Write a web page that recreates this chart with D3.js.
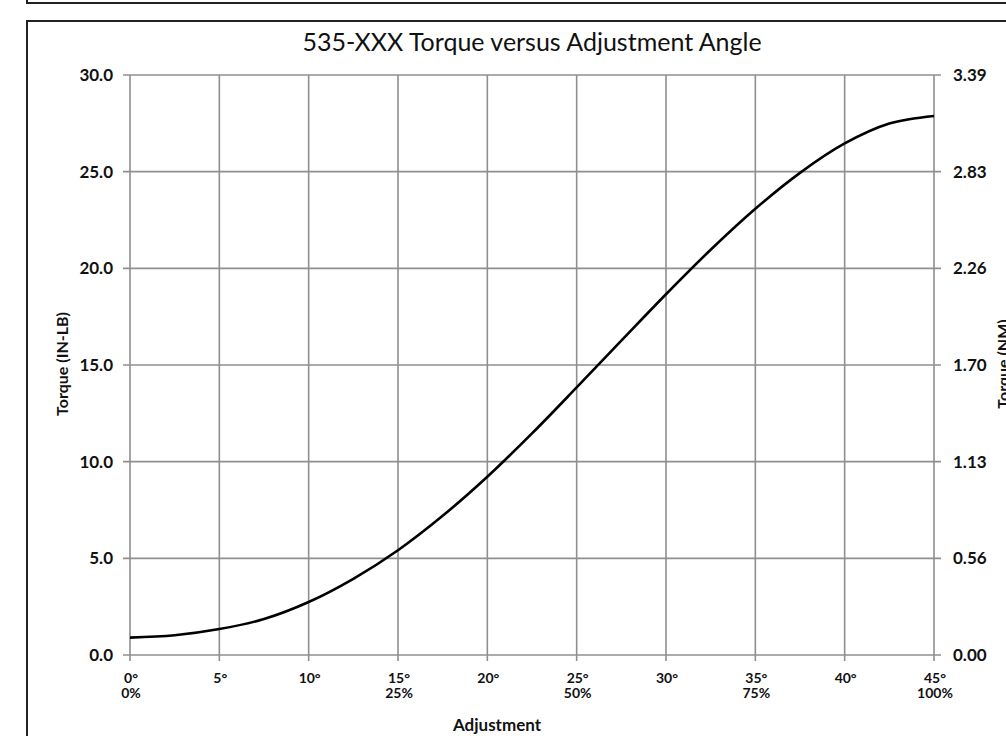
<!DOCTYPE html>
<html>
<head>
<meta charset="utf-8">
<script src="https://cdn.jsdelivr.net/npm/d3@7"></script>
<style>
  body { margin: 0; background: #fff; }
  svg text { font-family: Lato, "Open Sans", sans-serif; fill: #111; }
</style>
</head>
<body>
<svg id="stage" width="1006" height="736"></svg>
<script>

//chart data
var angles  = [0, 2.5, 5, 7.5, 10, 12.5, 15, 17.5, 20, 22.5, 25, 27.5, 30, 32.5, 35, 37.5, 40, 42.5, 45];
var torques = [0.90, 1.02, 1.34, 1.86, 2.74, 3.94, 5.42, 7.20, 9.22, 11.46, 13.84, 16.26, 18.66, 20.96, 23.08, 24.94, 26.46, 27.49, 27.88];

var degreeTicks  = [0, 5, 10, 15, 20, 25, 30, 35, 40, 45];
var percentTicks = {0: "0%", 15: "25%", 25: "50%", 35: "75%", 45: "100%"};
var lbTicks = [0, 5, 10, 15, 20, 25, 30];
var nmLabels = ["0.00", "0.56", "1.13", "1.70", "2.26", "2.83", "3.39"];

var svg = d3.select("#stage");

//frame lines
svg.append("path")
  .attr("d", "M27,-2 L27,3 L1010,3")
  .attr("fill", "none").attr("stroke", "#222").attr("stroke-width", 2);
svg.append("path")
  .attr("d", "M1010,21 L27,21 L27,740")
  .attr("fill", "none").attr("stroke", "#222").attr("stroke-width", 2);

//scales
var x = d3.scaleLinear().domain([0, 45]).range([130, 934]);
var y = d3.scaleLinear().domain([0, 30]).range([655, 75]);

var gridColor = "#8f8f8f";

//grid
svg.append("g").selectAll("line.v")
  .data(degreeTicks).enter().append("line")
  .attr("x1", function(d){ return x(d); })
  .attr("x2", function(d){ return x(d); })
  .attr("y1", y(30)).attr("y2", y(0) + 6)
  .attr("stroke", gridColor).attr("stroke-width", 1.6);

svg.append("g").selectAll("line.h")
  .data(lbTicks).enter().append("line")
  .attr("x1", x(0) - 7).attr("x2", x(45) + 7)
  .attr("y1", function(d){ return y(d); })
  .attr("y2", function(d){ return y(d); })
  .attr("stroke", gridColor).attr("stroke-width", 1.6);

//left labels
svg.append("g").selectAll("text")
  .data(lbTicks).enter().append("text")
  .attr("x", 113).attr("y", function(d){ return y(d); })
  .attr("dy", "0.36em")
  .attr("text-anchor", "end")
  .style("font-size", "17px").style("font-weight", "bold")
  .text(function(d){ return d3.format(".1f")(d); });

//right labels
svg.append("g").selectAll("text")
  .data(lbTicks).enter().append("text")
  .attr("x", 953).attr("y", function(d){ return y(d); })
  .attr("dy", "0.36em")
  .attr("text-anchor", "start")
  .style("font-size", "17px").style("font-weight", "bold")
  .text(function(d, i){ return nmLabels[i]; });

//bottom labels
var xl = svg.append("g").selectAll("text")
  .data(degreeTicks).enter().append("text")
  .attr("x", function(d){ return x(d); })
  .attr("y", 683)
  .attr("text-anchor", "middle")
  .style("font-size", "14px").style("font-weight", "bold");
xl.append("tspan")
  .attr("x", function(d){ return x(d) + 1; })
  .text(function(d){ return d + "°"; });
xl.append("tspan")
  .attr("x", function(d){ return x(d) + 1; })
  .attr("dy", 15)
  .text(function(d){ return percentTicks[d] || ""; });

//curve
var line = d3.line()
  .x(function(d){ return x(d[0]); })
  .y(function(d){ return y(d[1]); })
  .curve(d3.curveCatmullRom);

svg.append("path")
  .datum(d3.zip(angles, torques))
  .attr("d", line)
  .attr("fill", "none")
  .attr("stroke", "#000")
  .attr("stroke-width", 2.6);

//titles
svg.append("text")
  .attr("x", 532).attr("y", 51)
  .attr("text-anchor", "middle")
  .style("font-size", "25px")
  .text("535-XXX Torque versus Adjustment Angle");

svg.append("text")
  .attr("x", 497).attr("y", 731)
  .attr("text-anchor", "middle")
  .style("font-size", "17px").style("font-weight", "bold")
  .text("Adjustment");

svg.append("text")
  .attr("transform", "translate(68,364) rotate(-90)")
  .attr("text-anchor", "middle")
  .style("font-size", "16px").style("font-weight", "bold")
  .text("Torque (IN-LB)");

svg.append("text")
  .attr("transform", "translate(1009,364) rotate(-90)")
  .attr("text-anchor", "middle")
  .style("font-size", "16px").style("font-weight", "bold")
  .text("Torque (NM)");

</script>
</body>
</html>
